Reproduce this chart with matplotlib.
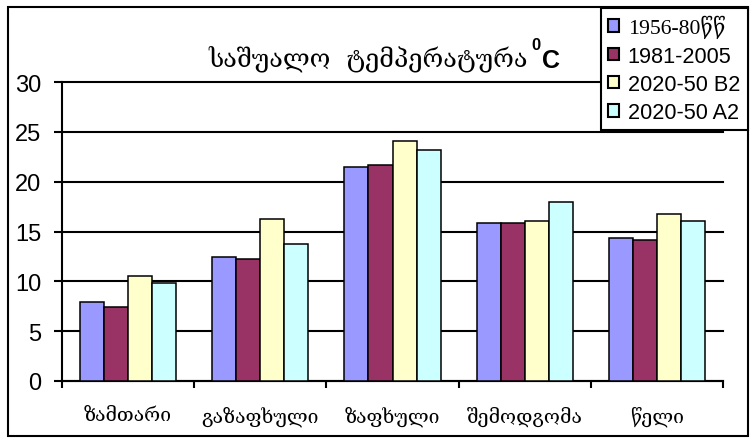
import numpy as np
import matplotlib.pyplot as plt
from matplotlib.patches import Rectangle, Patch

# mean temperature by season, four periods
seasons = ['ზამთარი', 'გაზაფხული', 'ზაფხული', 'შემოდგომა', 'წელი']
periods = ['1956-80წწ', '1981-2005', '2020-50 B2', '2020-50 A2']
t_1956_80 = [7.9, 12.4, 21.5, 15.9, 14.3]
t_1981_2005 = [7.4, 12.2, 21.7, 15.9, 14.1]
t_2020_b2 = [10.5, 16.3, 24.1, 16.1, 16.8]
t_2020_a2 = [9.8, 13.7, 23.2, 18.0, 16.1]
yticks = [0, 5, 10, 15, 20, 25, 30]

colors = ['#9999FF', '#993366', '#FFFFCC', '#CCFFFF']
series = [t_1956_80, t_1981_2005, t_2020_b2, t_2020_a2]

W, H = 750, 439


def fx(px):
    return px / W


def fy(py):
    return 1 - py / H


fig = plt.figure(figsize=(7.5, 4.39), dpi=100)
ax = fig.add_axes([fx(62), fy(382), fx(723) - fx(62), fy(83) - fy(382)])

x = np.arange(len(seasons))
width = 0.182
for i, (vals, c) in enumerate(zip(series, colors)):
    ax.bar(x + (i - 1.5) * width, vals, width, color=c, edgecolor='black',
           linewidth=1.1, zorder=3)

ax.set_xlim(-0.5, len(seasons) - 0.5)
ax.set_ylim(0, 30)
ax.set_yticks(yticks)
ax.yaxis.grid(True, color='black', linewidth=1.5)
for gl in ax.get_ygridlines():
    gl.set_clip_on(False)
ax.set_axisbelow(True)

for s in ['top', 'right']:
    ax.spines[s].set_visible(False)
for s in ['left', 'bottom']:
    ax.spines[s].set_linewidth(1.5)

ax.tick_params(axis='y', direction='out', length=6, width=1.5, pad=9,
               labelsize=17)
for lbl in ax.get_yticklabels():
    lbl.set_family('Liberation Sans')

# category boundaries carry the ticks, names sit in between
ax.set_xticks(np.arange(len(seasons) + 1) - 0.5)
ax.set_xticklabels([])
ax.set_xticks(x, minor=True)
ax.set_xticklabels(seasons, minor=True, family='DejaVu Serif', fontsize=14)
ax.tick_params(axis='x', which='major', direction='out', length=5, width=1.5)
ax.tick_params(axis='x', which='minor', length=0, pad=18)

# title
fig.text(fx(208), fy(66), 'საშუალო  ტემპერატურა', family='DejaVu Serif',
         fontsize=18.1, va='baseline')
fig.text(fx(531), fy(50), '0', family='Liberation Sans', fontsize=12,
         fontweight='bold', va='baseline')
fig.text(fx(542), fy(68), 'C', family='Liberation Sans', fontsize=18,
         fontweight='bold', va='baseline')

# legend
handles = [Patch(facecolor=c, edgecolor='black', linewidth=1.5) for c in colors]
leg = fig.legend(handles, periods, loc='upper left',
                 bbox_to_anchor=(fx(601), fy(131), fx(748) - fx(601), fy(9) - fy(131)),
                 mode='expand', frameon=True, fancybox=False, framealpha=1,
                 edgecolor='black', handlelength=0.5,
                 handleheight=0.5, handletextpad=0.42, labelspacing=0.34,
                 borderpad=0.32, borderaxespad=0,
                 prop={'family': 'Liberation Sans', 'size': 15.6})
leg.get_frame().set_linewidth(1.5)
leg.get_texts()[0].set_family(['Liberation Serif', 'DejaVu Serif'])

# outer border
fig.patches.append(Rectangle((fx(8), fy(437)), fx(748) - fx(8), fy(8) - fy(437),
                             transform=fig.transFigure, fill=False,
                             edgecolor='black', linewidth=1.5))

fig.savefig('out.png', dpi=100)
